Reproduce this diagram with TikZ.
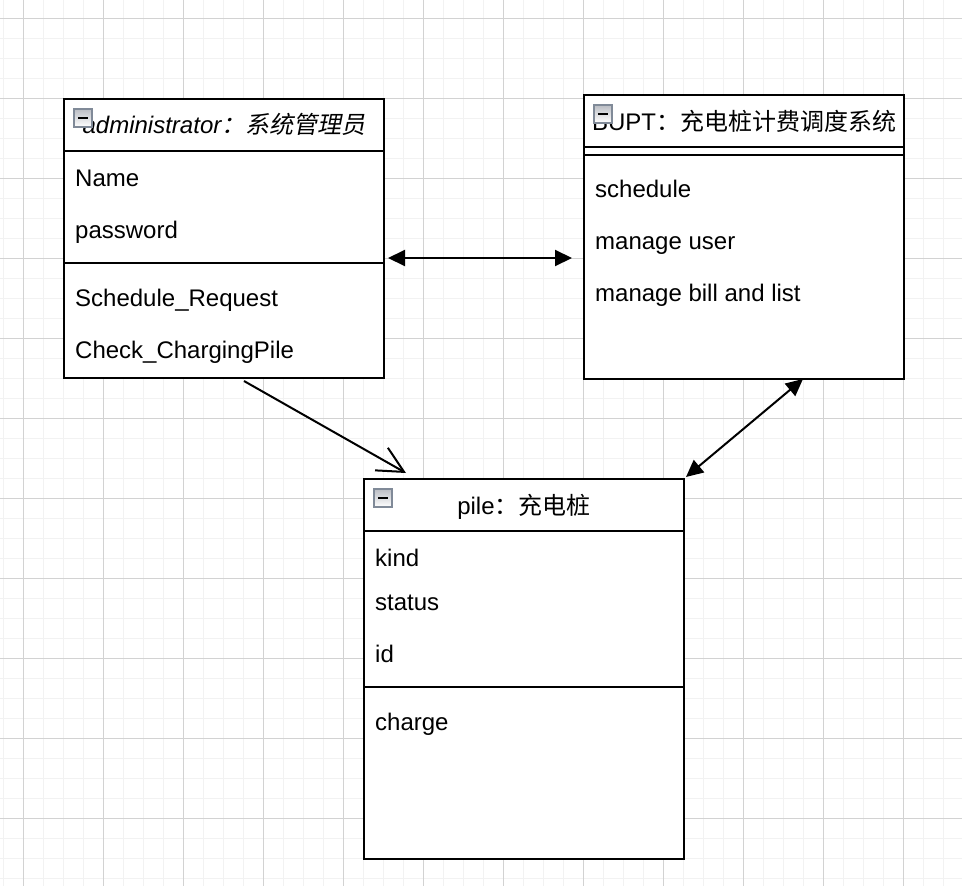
\documentclass[tikz,border=0pt]{standalone}
\usepackage{fontspec}
\setmainfont{Liberation Sans}
\newfontfamily\cjk{Noto Sans CJK SC}
\newfontfamily\cjkit{Noto Sans CJK SC}[FakeSlant=0.2]
\usetikzlibrary{arrows.meta}
\definecolor{iconborder}{RGB}{128,138,152}
\definecolor{icontop}{RGB}{185,188,195}
\definecolor{minorc}{RGB}{242,242,242}
\definecolor{majorc}{RGB}{210,210,210}
\tikzset{
  minorgrid/.style={draw=minorc, line width=1pt},
  majorgrid/.style={draw=majorc, line width=1pt},
  umlbox/.style={draw=black, line width=2pt, fill=white, inner sep=0pt, outer sep=0pt, anchor=north west},
  sepline/.style={draw=black, line width=2pt},
  attr/.style={anchor=base west, inner sep=0pt, font=\fontsize{24}{28}\selectfont},
  head/.style={anchor=base, inner sep=0pt, font=\fontsize{24}{28}\selectfont},
  icon/.style={draw=iconborder, line width=1.5pt, top color=icontop, bottom color=white, minimum size=18pt, inner sep=0pt, anchor=north west},
  conn/.style={draw=black, line width=2pt},
  blk/.tip={Triangle[length=17pt,width=16pt]},
  opn/.tip={Straight Barb[length=26pt,width=26pt,line width=2pt]}
}
\begin{document}
\begin{tikzpicture}[x=1pt,y=-1pt]
\useasboundingbox (0,0) rectangle (962,886);
\fill[white] (0,0) rectangle (962,886);
% grid
\foreach \x in {3,23,...,963} \draw[minorgrid] (\x,0) -- (\x,886);
\foreach \y in {18,38,...,878} \draw[minorgrid] (0,\y) -- (962,\y);
\foreach \x in {23,103,...,903} \draw[majorgrid] (\x,0) -- (\x,886);
\foreach \y in {18,98,...,818} \draw[majorgrid] (0,\y) -- (962,\y);

% box 1: administrator
\node[umlbox, minimum width=320pt, minimum height=279pt] (admin) at (64,99) {};
\draw[sepline] (64,151) -- (384,151);
\draw[sepline] (64,263) -- (384,263);
\node[head] (adminT) at (224,133) {\itshape administrator\cjkit ：系统管理员};
\node[attr] (a1) at (75,186) {Name};
\node[attr] (a2) at (75,238) {password};
\node[attr] (a3) at (75,306) {Schedule\_Request};
\node[attr] (a4) at (75,358) {Check\_ChargingPile};
\node[icon] (ic1) at (73,108) {\rule{10pt}{2pt}};

% box 2: BUPT
\node[umlbox, minimum width=320pt, minimum height=284pt] (sys) at (584,95) {};
\draw[sepline] (584,147) -- (904,147);
\draw[sepline] (584,155) -- (904,155);
\node[head] (sysT) at (744,130) {BUPT{\cjk ：充电桩计费调度系统}};
\node[attr] (s1) at (595,197) {schedule};
\node[attr] (s2) at (595,249) {manage user};
\node[attr] (s3) at (595,301) {manage bill and list};
\node[icon] (ic2) at (593,104) {\rule{10pt}{2pt}};

% box 3: pile
\node[umlbox, minimum width=320pt, minimum height=380pt] (pile) at (364,479) {};
\draw[sepline] (364,531) -- (684,531);
\draw[sepline] (364,687) -- (684,687);
\node[head] (pileT) at (524,514) {pile{\cjk ：充电桩}};
\node[attr] (p1) at (375,566) {kind};
\node[attr] (p2) at (375,610) {status};
\node[attr] (p3) at (375,662) {id};
\node[attr] (p4) at (375,730) {charge};
\node[icon] (ic3) at (373,488) {\rule{10pt}{2pt}};

% connectors
\coordinate (e1a) at (388,258);
\coordinate (e1b) at (572,258);
\draw[conn, blk-blk] (e1a) -- (e1b);
\coordinate (e2a) at (244,381);
\coordinate (e2b) at (406,473);
\draw[conn, -opn] (e2a) -- (e2b);
\coordinate (e3a) at (803,379);
\coordinate (e3b) at (686,477);
\draw[conn, blk-blk] (e3a) -- (e3b);
\end{tikzpicture}
\end{document}
